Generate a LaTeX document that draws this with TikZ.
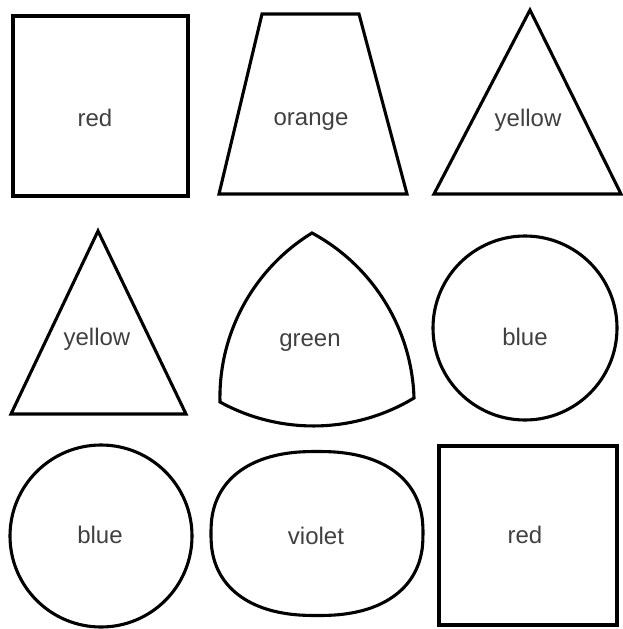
\documentclass[tikz,border=0pt]{standalone}
\usepackage{fontspec}
\setmainfont{Liberation Sans}
\begin{document}
\begin{tikzpicture}[x=1pt,y=-1pt,
  shp/.style={draw=black,line width=3.1pt,line join=miter},
  lbl/.style={font=\fontsize{24}{28}\selectfont,text=black!75,inner sep=0pt,anchor=base}]
\useasboundingbox (0,0) rectangle (623,629);
% row 1
\draw[shp] (13,16) rectangle (188,196);
\node[lbl] (t1) at (95,126) {red};
\draw[shp] (262,14) -- (359,14) -- (407,194) -- (219,194) -- cycle;
\node[lbl] (t2) at (311,125) {orange};
\draw[shp] (530,10) -- (621,194) -- (434,194) -- cycle;
\node[lbl] (t3) at (528,126) {yellow};
% row 2
\draw[shp] (98,231) -- (186,414) -- (11,414) -- cycle;
\node[lbl] (t4) at (97,345) {yellow};
\coordinate (gA) at (312,233);
\coordinate (gB) at (220,402);
\coordinate (gC) at (414,398);
\draw[shp] (gA) to[bend right=30,looseness=0.91] (gB)
  to[bend right=30,looseness=0.91] (gC)
  to[bend right=30,looseness=0.91] (gA) -- cycle;
\node[lbl] (t5) at (310,346) {green};
\draw[shp] (525,328) circle[radius=92pt];
\node[lbl] (t6) at (525,345) {blue};
% row 3
\draw[shp] (101,536) circle[radius=91pt];
\node[lbl] (t7) at (100,543) {blue};
\draw[shp] plot[domain=2.5:362.5,samples=73,smooth cycle]
  ({317+106*sign(cos(\x))*pow(abs(cos(\x)),0.85)},{533.5+82*sign(sin(\x))*pow(abs(sin(\x)),0.85)});
\node[lbl] (t8) at (316,544) {violet};
\draw[shp] (439,446) rectangle (617,625);
\node[lbl] (t9) at (525,543) {red};
\end{tikzpicture}
\end{document}
